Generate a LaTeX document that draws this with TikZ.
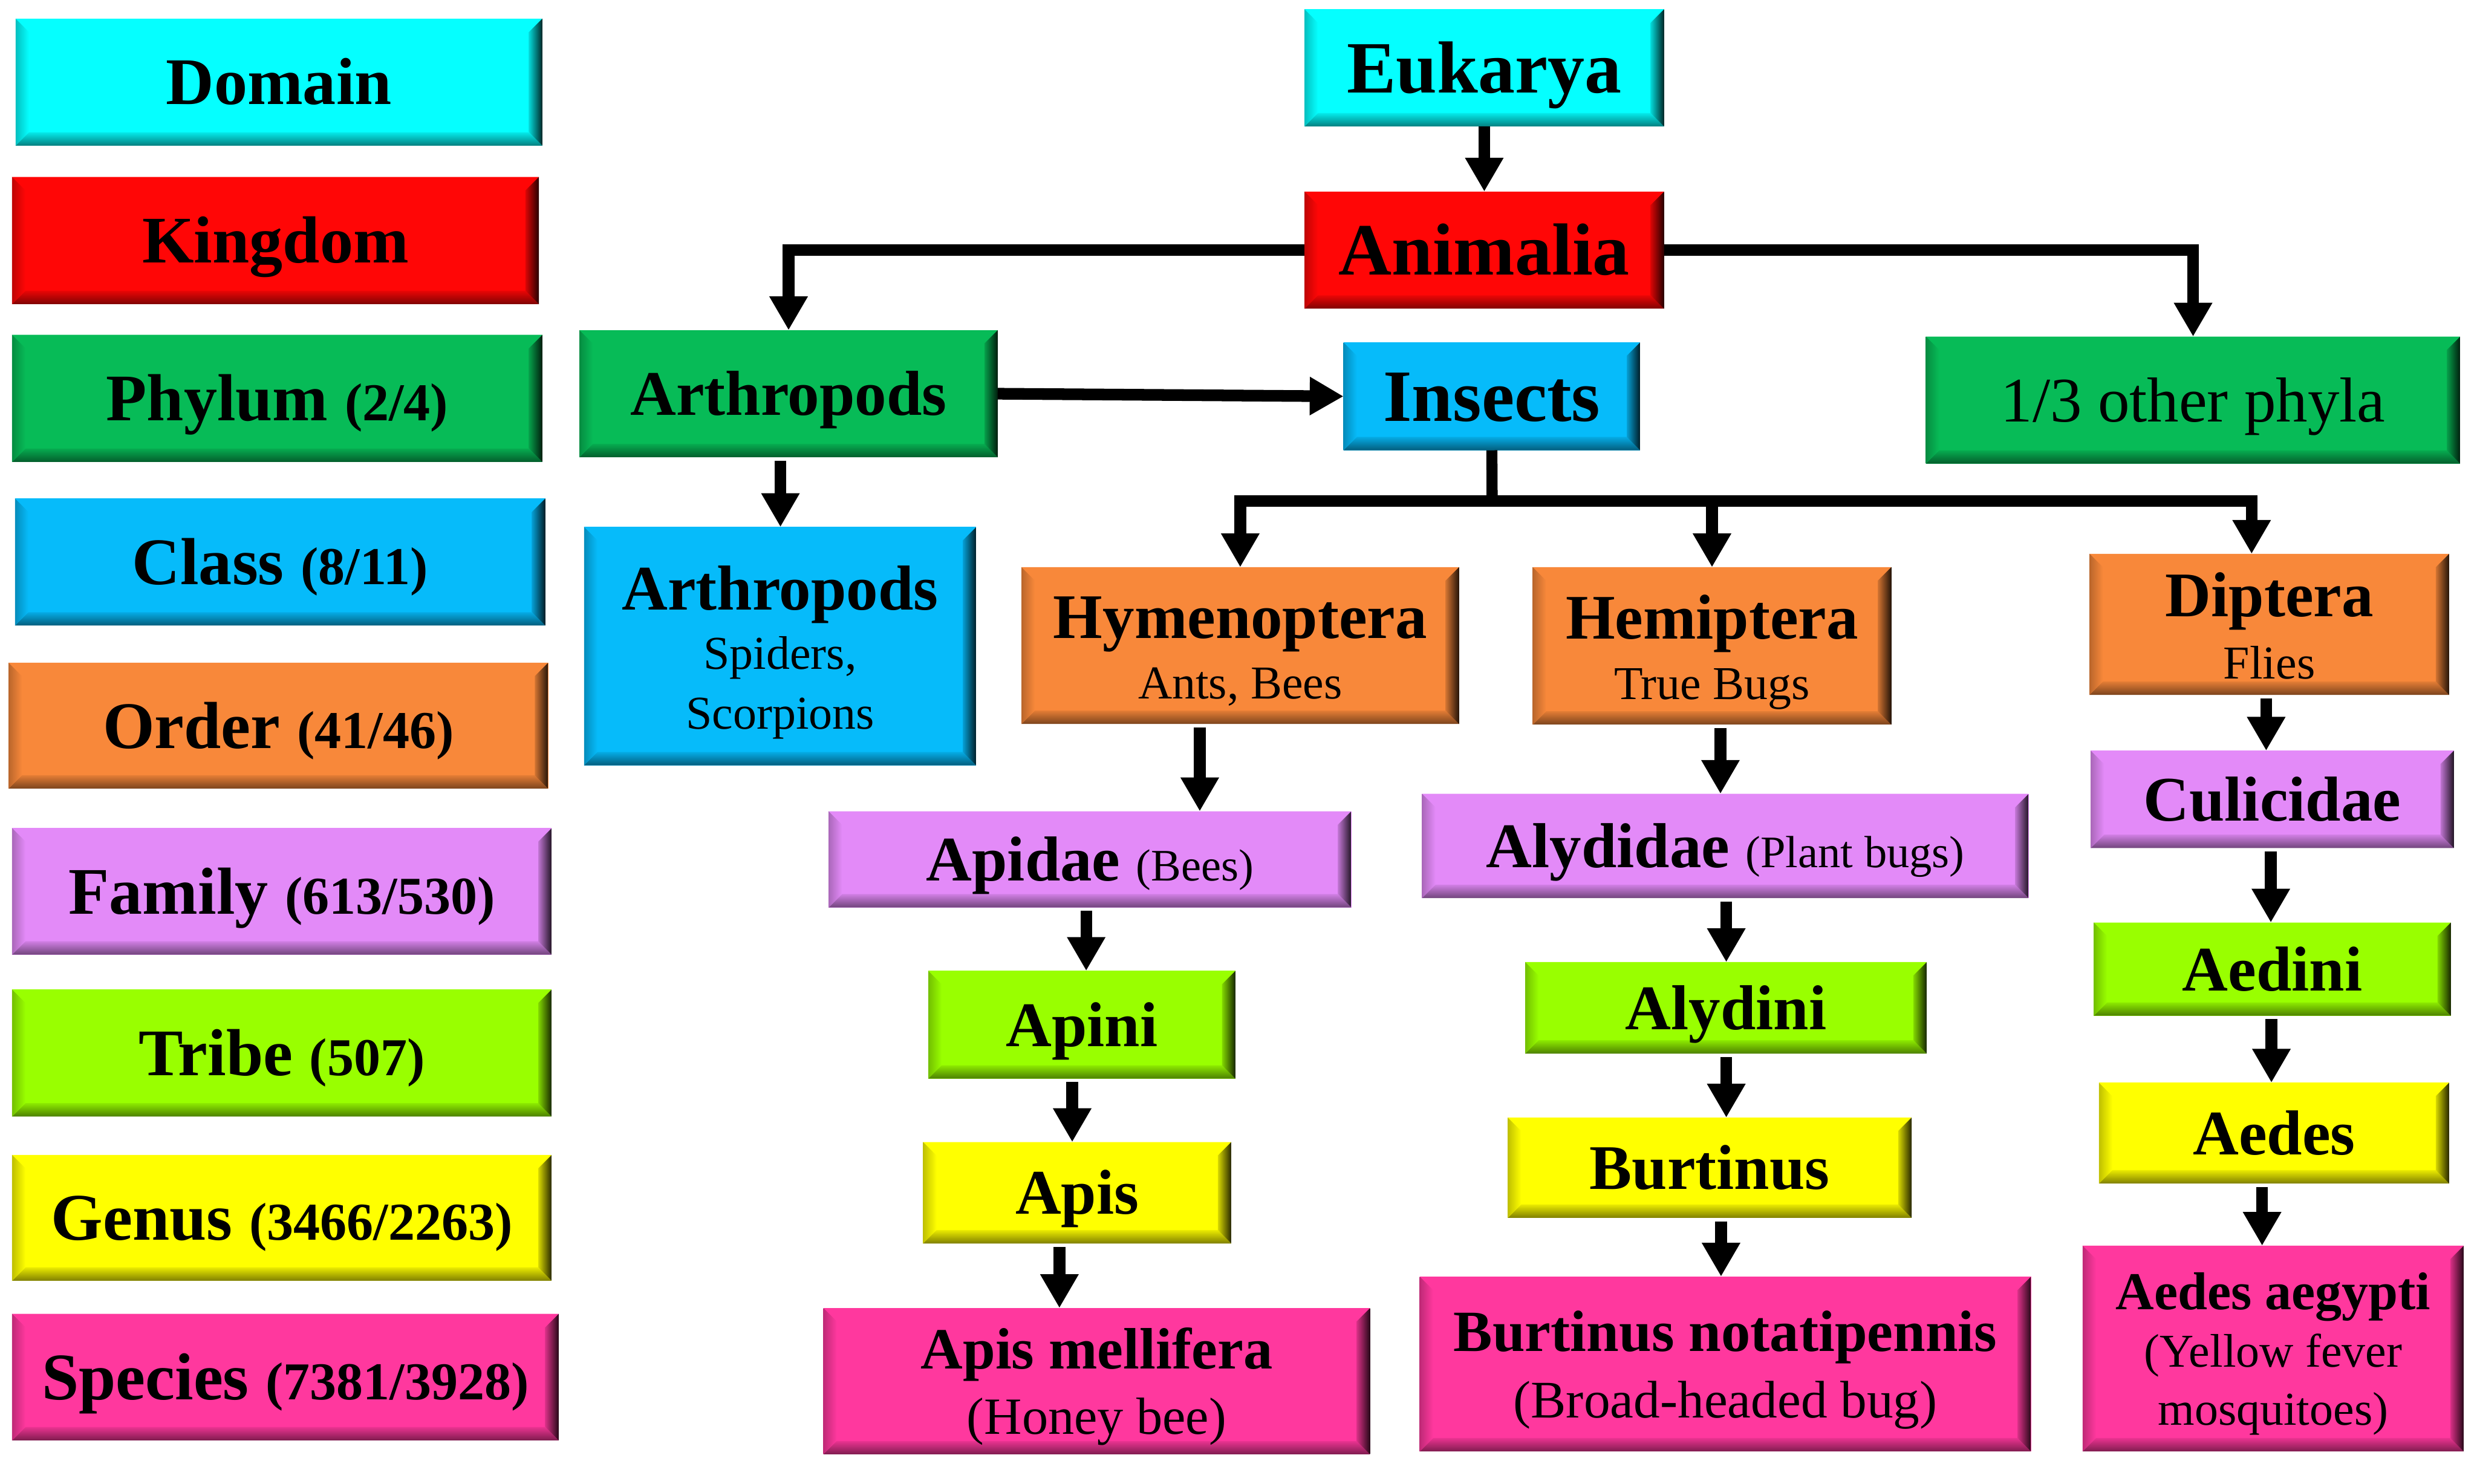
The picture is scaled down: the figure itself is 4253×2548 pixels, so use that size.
\documentclass[tikz,border=0pt]{standalone}
\usepackage{fontspec}
\setmainfont{Liberation Serif}
\usetikzlibrary{arrows.meta,calc}
\definecolor{cDom}{HTML}{05FFFF}
\definecolor{cKin}{HTML}{FF0606}
\definecolor{cPhy}{HTML}{07BB57}
\definecolor{cCla}{HTML}{06BBFA}
\definecolor{cOrd}{HTML}{F8883A}
\definecolor{cFam}{HTML}{E38AF8}
\definecolor{cTri}{HTML}{99FF00}
\definecolor{cGen}{HTML}{FFFF00}
\definecolor{cSpe}{HTML}{FF389E}
\newcommand\bevw{0.23cm}
\newcommand\txb[2]{{\bfseries\fontsize{#1pt}{#1pt}\selectfont\vrule width0pt height0.891em depth0.216em\relax#2}}
\newcommand\txr[2]{{\mdseries\fontsize{#1pt}{#1pt}\selectfont\vrule width0pt height0.891em depth0.216em\relax#2}}
\tikzset{
  bev/.style={rectangle, inner sep=0pt, outer sep=0pt, fill=#1, align=center, text=black,
    font=\fontsize{20pt}{29.5pt}\selectfont,
    path picture={
      \path (path picture bounding box.south west) coordinate (bSW)
            (path picture bounding box.north east) coordinate (bNE)
            (path picture bounding box.north west) coordinate (bNW)
            (path picture bounding box.south east) coordinate (bSE);
      \path ([xshift=\bevw,yshift=\bevw]bSW) coordinate (iSW)
            ([xshift=-\bevw,yshift=-\bevw]bNE) coordinate (iNE)
            ([xshift=\bevw,yshift=-\bevw]bNW) coordinate (iNW)
            ([xshift=-\bevw,yshift=\bevw]bSE) coordinate (iSE);
      \shade[top color=#1, middle color=#1!55!white, bottom color=#1] (bNW) -- (bNE) -- (iNE) -- (iNW) -- cycle;
      \shade[top color=#1!92!black, bottom color=#1!50!black] (iSW) -- (iSE) -- (bSE) -- (bSW) -- cycle;
      \shade[left color=#1!75!black, right color=#1] (bNW) -- (iNW) -- (iSW) -- (bSW) -- cycle;
      \shade[left color=#1!85!black, right color=black!85!#1] (iNE) -- (bNE) -- (bSE) -- (iSE) -- cycle;
    }},
  arr/.style={line width=0.2cm, -{Triangle[width=0.62cm,length=0.58cm]}},
  varr/.style={arr, shorten <=0.06cm},
  ln/.style={line width=0.19cm}
}
\newcommand\bx[8][]{%
  \pgfmathsetmacro\bxw{(#5-#3)/100}%
  \pgfmathsetmacro\bxh{(#6-#4)/100}%
  \node[bev=#7, minimum width=\bxw cm, minimum height=\bxh cm, #1] (#2) at ({(#3+#5)/2},{(#4+#6)/2}) {#8};%
}
\begin{document}
\begin{tikzpicture}[x=0.01cm, y=-0.01cm, line join=miter]
\fill[white] (0,0) rectangle (4253,2548);
\useasboundingbox (0,0) rectangle (4253,2548);
% legend
\bx{dom}{27}{32}{931}{250}{cDom}{\txb{32.5}{Domain}}
\bx{kin}{21}{304}{925}{522}{cKin}{\txb{32.5}{Kingdom}}
\bx{phy}{21}{575}{931}{793}{cPhy}{\txb{32.5}{Phylum }\txb{26}{(2/4)}}
\bx{cla}{26}{856}{936}{1074}{cCla}{\txb{32.5}{Class }\txb{26}{(8/11)}}
\bx{ord}{15}{1138}{941}{1354}{cOrd}{\txb{32.5}{Order }\txb{26}{(41/46)}}
\bx{fam}{21}{1422}{947}{1639}{cFam}{\txb{32.5}{Family }\txb{26}{(613/530)}}
\bx{tri}{21}{1699}{947}{1917}{cTri}{\txb{32.5}{Tribe }\txb{26}{(507)}}
\bx{gen}{21}{1983}{947}{2199}{cGen}{\txb{32.5}{Genus }\txb{26}{(3466/2263)}}
\bx{spe}{21}{2256}{959}{2473}{cSpe}{\txb{32.5}{Species }\txb{26}{(7381/3928)}}
% tree
\bx{euk}{2240}{16}{2857}{217}{cDom}{\txb{36}{Eukarya}}
\bx{ani}{2240}{329}{2857}{530}{cKin}{\txb{36}{Animalia}}
\bx{arth}{995}{567}{1713}{785}{cPhy}{\txb{31}{Arthropods}}
\bx{ins}{2307}{588}{2816}{773}{cCla}{\txb{36}{Insects}}
\bx{oth}{3307}{578}{4224}{796}{cPhy}{\txr{31}{1/3 other phyla}}
\bx[font=\fontsize{20pt}{29pt}\selectfont]{arthb}{1003}{905}{1676}{1314}{cCla}{\txb{31}{Arthropods}\\\txr{23}{Spiders,}\\\txr{23}{Scorpions}}
\bx{hym}{1754}{974}{2505}{1243}{cOrd}{\txb{31}{Hymenoptera}\\\txr{23}{Ants, Bees}}
\bx{hem}{2632}{974}{3247}{1244}{cOrd}{\txb{31}{Hemiptera}\\\txr{23}{True Bugs}}
\bx[font=\fontsize{20pt}{30.4pt}\selectfont]{dip}{3588}{951}{4205}{1193}{cOrd}{\txb{31}{Diptera}\\\txr{23}{Flies}}
\bx{apid}{1423}{1393}{2320}{1558}{cFam}{\txb{31}{Apidae }\txr{22}{(Bees)}}
\bx{alyd}{2442}{1363}{3483}{1542}{cFam}{\txb{31}{Alydidae }\txr{22}{(Plant bugs)}}
\bx{cul}{3590}{1289}{4213}{1456}{cFam}{\txb{31}{Culicidae}}
\bx{apini}{1594}{1667}{2121}{1852}{cTri}{\txb{31}{Apini}}
\bx{alydini}{2619}{1652}{3308}{1809}{cTri}{\txb{31}{Alydini}}
\bx{aedini}{3595}{1584}{4208}{1744}{cTri}{\txb{31}{Aedini}}
\bx{apis}{1585}{1961}{2114}{2135}{cGen}{\txb{31}{Apis}}
\bx{burt}{2589}{1919}{3282}{2091}{cGen}{\txb{31}{Burtinus}}
\bx{aedes}{3604}{1859}{4205}{2032}{cGen}{\txb{31}{Aedes}}
\bx[font=\fontsize{20pt}{32pt}\selectfont]{mell}{1414}{2246}{2352}{2497}{cSpe}{\txb{28.5}{Apis mellifera}\\\txr{25.5}{(Honey bee)}}
\bx[font=\fontsize{20pt}{32.4pt}\selectfont]{bn}{2438}{2192}{3487}{2492}{cSpe}{\txb{28.5}{Burtinus notatipennis}\\\txr{25.8}{(Broad-headed bug)}}
\bx[font=\fontsize{20pt}{28.3pt}\selectfont]{aeg}{3576}{2139}{4230}{2492}{cSpe}{\txb{26}{Aedes aegypti}\\\txr{23}{(Yellow fever}\\\txr{23}{mosquitoes)}}
% connector coordinates
\coordinate (xAB) at (1340,0);
\coordinate (xD) at (3866,0);
\coordinate (jn) at (2562,860);
\coordinate (xA1) at (2060,0);
\coordinate (xA2) at (1865,0);
\coordinate (xA3) at (1841,0);
\coordinate (xA4) at (1819,0);
\coordinate (xB1) at (2954,0);
\coordinate (xB2) at (2964,0);
\coordinate (xB3) at (2964,0);
\coordinate (xB4) at (2955,0);
\coordinate (xC1) at (3891,0);
\coordinate (xC2) at (3899,0);
\coordinate (xC3) at (3900,0);
\coordinate (xC4) at (3884,0);
% connectors
\draw[arr] (euk.south) -- (ani.north);
\draw[arr] (ani.west) -| (arth.north);
\draw[arr] (ani.east) -| (oth.north);
\draw[arr] (arth.east) -- (ins.west);
\draw[varr] (xAB |- arth.south) -- (xAB |- arthb.north);
\draw[ln] (ins.south) -- (jn);
\draw[arr] (jn) -| (hym.north);
\draw[arr] (jn) -| (hem.north);
\draw[arr] (jn) -| (xD |- dip.north);
\draw[varr] (xA1 |- hym.south) -- (xA1 |- apid.north);
\draw[varr] (xA2 |- apid.south) -- (xA2 |- apini.north);
\draw[varr] (xA3 |- apini.south) -- (xA3 |- apis.north);
\draw[varr] (xA4 |- apis.south) -- (xA4 |- mell.north);
\draw[varr] (xB1 |- hem.south) -- (xB1 |- alyd.north);
\draw[varr] (xB2 |- alyd.south) -- (xB2 |- alydini.north);
\draw[varr] (xB3 |- alydini.south) -- (xB3 |- burt.north);
\draw[varr] (xB4 |- burt.south) -- (xB4 |- bn.north);
\draw[varr] (xC1 |- dip.south) -- (xC1 |- cul.north);
\draw[varr] (xC2 |- cul.south) -- (xC2 |- aedini.north);
\draw[varr] (xC3 |- aedini.south) -- (xC3 |- aedes.north);
\draw[varr] (xC4 |- aedes.south) -- (xC4 |- aeg.north);
\end{tikzpicture}
\end{document}
